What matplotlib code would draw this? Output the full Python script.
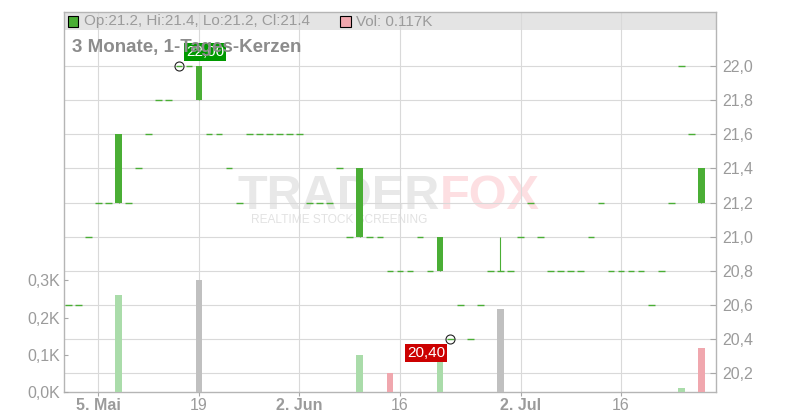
import matplotlib
matplotlib.use('Agg')
import matplotlib.pyplot as plt
import numpy as np
from matplotlib.patches import Rectangle
from matplotlib.ticker import FuncFormatter

plt.rcParams['font.family'] = ['Liberation Sans', 'DejaVu Sans']

# daily candles, trading day index 0..63 (30 Apr .. 28 Jul)
opens = [20.6, 20.6, 21.0, 21.2, 21.2, 21.2, 21.2, 21.4, 21.6, 21.8,
         21.8, 22.0, 22.0, 21.8, 21.6, 21.6, 21.4, 21.2, 21.6, 21.6,
         21.6, 21.6, 21.6, 21.6, 21.2, 21.2, 21.2, 21.4, 21.0, 21.0,
         21.0, 21.0, 20.8, 20.8, 20.8, 21.0, 20.8, 20.8, 20.4, 20.6,
         20.4, 20.6, 20.8, 20.8, 20.8, 21.0, 21.2, 21.0, 20.8, 20.8,
         20.8, 20.8, 21.0, 21.2, 20.8, 20.8, 20.8, 20.8, 20.6, 20.8,
         21.2, 22.0, 21.6, 21.2]
closes = [20.6, 20.6, 21.0, 21.2, 21.2, 21.6, 21.2, 21.4, 21.6, 21.8,
          21.8, 22.0, 22.0, 22.0, 21.6, 21.6, 21.4, 21.2, 21.6, 21.6,
          21.6, 21.6, 21.6, 21.6, 21.2, 21.2, 21.2, 21.4, 21.0, 21.4,
          21.0, 21.0, 20.8, 20.8, 20.8, 21.0, 20.8, 21.0, 20.4, 20.6,
          20.4, 20.6, 20.8, 20.8, 20.8, 21.0, 21.2, 21.0, 20.8, 20.8,
          20.8, 20.8, 21.0, 21.2, 20.8, 20.8, 20.8, 20.8, 20.6, 20.8,
          21.2, 22.0, 21.6, 21.4]
highs = [20.6, 20.6, 21.0, 21.2, 21.2, 21.6, 21.2, 21.4, 21.6, 21.8,
         21.8, 22.0, 22.0, 22.0, 21.6, 21.6, 21.4, 21.2, 21.6, 21.6,
         21.6, 21.6, 21.6, 21.6, 21.2, 21.2, 21.2, 21.4, 21.0, 21.4,
         21.0, 21.0, 20.8, 20.8, 20.8, 21.0, 20.8, 21.0, 20.4, 20.6,
         20.4, 20.6, 20.8, 21.0, 20.8, 21.0, 21.2, 21.0, 20.8, 20.8,
         20.8, 20.8, 21.0, 21.2, 20.8, 20.8, 20.8, 20.8, 20.6, 20.8,
         21.2, 22.0, 21.6, 21.4]
lows = [20.6, 20.6, 21.0, 21.2, 21.2, 21.2, 21.2, 21.4, 21.6, 21.8,
        21.8, 22.0, 22.0, 21.8, 21.6, 21.6, 21.4, 21.2, 21.6, 21.6,
        21.6, 21.6, 21.6, 21.6, 21.2, 21.2, 21.2, 21.4, 21.0, 21.0,
        21.0, 21.0, 20.8, 20.8, 20.8, 21.0, 20.8, 20.8, 20.4, 20.6,
        20.4, 20.6, 20.8, 20.8, 20.8, 21.0, 21.2, 21.0, 20.8, 20.8,
        20.8, 20.8, 21.0, 21.2, 20.8, 20.8, 20.8, 20.8, 20.6, 20.8,
        21.2, 22.0, 21.6, 21.2]
# volume in K shares
volumes = [0, 0, 0, 0, 0, 0.26, 0, 0, 0, 0,
           0, 0, 0, 0.30, 0, 0, 0, 0, 0, 0,
           0, 0, 0, 0, 0, 0, 0, 0, 0, 0.10,
           0, 0, 0.05, 0, 0, 0, 0, 0.09, 0, 0,
           0, 0, 0, 0.224, 0, 0, 0, 0, 0, 0,
           0, 0, 0, 0, 0, 0, 0, 0, 0, 0,
           0, 0.011, 0, 0.117]

tick_idx = [3, 13, 23, 33, 45, 55]
tick_labels = ['5. Mai', '19', '2. Jun', '16', '2. Jul', '16']
price_ticks = [20.2, 20.4, 20.6, 20.8, 21.0, 21.2, 21.4, 21.6, 21.8, 22.0]
vol_ticks = [0, 0.1, 0.2, 0.3]

GREEN = '#4aae35'
RED = '#d9302c'
VOL_UP = '#aadcaa'
VOL_DOWN = '#f0a7ae'
VOL_FLAT = '#c0c0c0'
GRID = '#d9d9d9'
TXT = '#9b9b9b'

o = np.array(opens); c = np.array(closes)
h = np.array(highs); l = np.array(lows)
v = np.array(volumes)
x = np.arange(len(c))

fig = plt.figure(figsize=(8, 4.2), dpi=100)
ax = fig.add_axes([63.5 / 800, 28 / 420, 652.5 / 800, 380.3 / 420])
vol = ax.twinx()
top = ax.twinx()
ax.set_zorder(0)
vol.set_zorder(1)
top.set_zorder(2)

ax.set_xlim(-0.48, 64.45)
ax.set_ylim(20.0885, 22.32)
top.set_ylim(20.0885, 22.32)
vol.set_ylim(0, 1.0215)

# background layer: header band, grid, watermark
ax.add_patch(Rectangle((0, 0.952), 1, 0.048, transform=ax.transAxes,
                       facecolor='#e4e4e4', edgecolor='none', zorder=0.1))
ax.set_axisbelow(True)
ax.grid(True, color=GRID, linewidth=0.8)
ax.text(0.576, 0.48, 'TRADER', transform=ax.transAxes, ha='right', va='baseline',
        fontsize=35, fontweight='bold', color='#e8e8e8', zorder=0.3)
ax.text(0.576, 0.48, 'FOX', transform=ax.transAxes, ha='left', va='baseline',
        fontsize=35, fontweight='bold', color='#fddfe2', zorder=0.3)
ax.text(0.287, 0.445, 'REALTIME STOCK SCREENING', transform=ax.transAxes,
        ha='left', va='baseline', fontsize=8.6, color='#e2e2e2', zorder=0.3)

ax.set_xticks(tick_idx)
ax.set_xticklabels(tick_labels)
for lab, txt in zip(ax.get_xticklabels(), tick_labels):
    if not txt.isdigit():
        lab.set_fontweight('bold')
ax.set_yticks(price_ticks)
ax.yaxis.set_major_formatter(FuncFormatter(lambda p, pos: f'{p:.1f}'.replace('.', ',')))
ax.yaxis.tick_right()
ax.tick_params(axis='y', direction='in', length=4, pad=4.3, labelsize=11.5,
               colors='#a8a8a8', labelcolor=TXT)
ax.tick_params(axis='x', direction='out', length=3, pad=1.5, labelsize=11.5,
               colors='#a8a8a8', labelcolor=TXT)
for s in ax.spines.values():
    s.set_color('#b5b5b5')
    s.set_linewidth(1.0)

# volume layer
prev = np.concatenate([[c[0]], c[:-1]])
vcol = [VOL_UP if cc > pp else VOL_DOWN if cc < pp else VOL_FLAT
        for cc, pp in zip(c, prev)]
vol.bar(x, v, width=0.667, color=vcol, linewidth=0)
vol.set_yticks(vol_ticks)
vol.yaxis.set_major_formatter(FuncFormatter(lambda p, pos: f'{p:.1f}K'.replace('.', ',')))
vol.yaxis.tick_left()
vol.tick_params(axis='y', direction='in', length=3, pad=2.5, labelsize=11.5,
                colors='#a8a8a8', labelcolor=TXT)
for s in vol.spines.values():
    s.set_visible(False)

# candle layer
for s in top.spines.values():
    s.set_visible(False)
top.set_yticks([])
ccol = [GREEN if cc >= oo else RED for cc, oo in zip(c, o)]
top.vlines(x, l, h, colors=ccol, linewidth=0.8)
body = np.abs(c - o)
flat = body == 0
top.bar(x[~flat], body[~flat], bottom=np.minimum(o, c)[~flat], width=0.667,
        color=np.array(ccol)[~flat], linewidth=0)
top.hlines(c[flat], x[flat] - 0.333, x[flat] + 0.333, colors=np.array(ccol)[flat],
           linewidth=1.0)

# max / min markers
imax = int(np.argmax(h))
imin = int(np.argmin(l))
top.plot([imax], [h[imax]], 'o', ms=6.5, mfc='none', mec='#222222', mew=0.8)
top.plot([imin], [l[imin]], 'o', ms=6.5, mfc='none', mec='#222222', mew=0.8)
top.annotate(f'{h[imax]:.2f}'.replace('.', ','), (imax, h[imax]),
             xytext=(26, 14), textcoords='offset pixels', ha='center', va='center',
             fontsize=11, color='white',
             bbox=dict(boxstyle='square,pad=0.12', fc='#009a00', ec='none'))
top.annotate(f'{l[imin]:.2f}'.replace('.', ','), (imin, l[imin]),
             xytext=(-24, -14), textcoords='offset pixels', ha='center', va='center',
             fontsize=11, color='white',
             bbox=dict(boxstyle='square,pad=0.12', fc='#cc0000', ec='none'))

# header legend and title
fig.patches.append(Rectangle((68.3 / 800, 1 - 26.5 / 420), 9.4 / 800, 10 / 420,
                             transform=fig.transFigure, facecolor=ccol[-1],
                             edgecolor='black', linewidth=0.8))
fig.text(84 / 800, 1 - 21.5 / 420,
         f'Op:{o[-1]:.1f}, Hi:{h[-1]:.1f}, Lo:{l[-1]:.1f}, Cl:{c[-1]:.1f}',
         ha='left', va='center', fontsize=11, color=TXT)
fig.patches.append(Rectangle((340 / 800, 1 - 26.5 / 420), 10.5 / 800, 10 / 420,
                             transform=fig.transFigure, facecolor=vcol[-1],
                             edgecolor='black', linewidth=0.8))
fig.text(356 / 800, 1 - 21.5 / 420, f'Vol: {v[-1]:.3f}K',
         ha='left', va='center', fontsize=11, color=TXT)
fig.text(72 / 800, 1 - 48 / 420, '3 Monate, 1-Tages-Kerzen',
         ha='left', va='center', fontsize=13.5, fontweight='bold', color='#8c8c8c')

fig.savefig('out.png', dpi=100)
